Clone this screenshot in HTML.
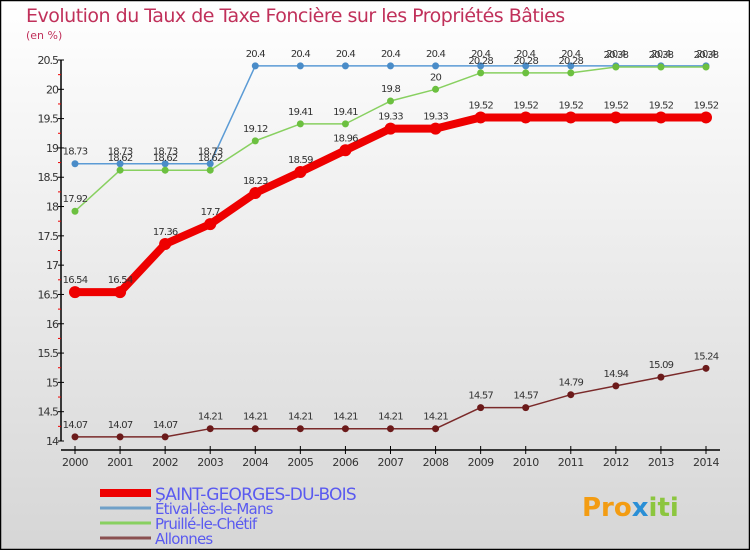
<!DOCTYPE html>
<html><head><meta charset="utf-8"><style>
body{margin:0;}
#c{width:750px;height:550px;}
svg text{font-family:"DejaVu Sans","Liberation Sans",sans-serif;}
</style></head><body>
<div id="c">
<svg id="svg" width="750" height="550" xmlns="http://www.w3.org/2000/svg">
<defs><linearGradient id="bg" x1="0" y1="0" x2="0" y2="1"><stop offset="0" stop-color="#ffffff"/><stop offset="1" stop-color="#d6d6d6"/></linearGradient></defs>
<rect x="0.5" y="0.5" width="749" height="549" fill="url(#bg)" stroke="#000" stroke-width="1.5"/>
<text x="26" y="22" font-size="19" fill="#c0305a" letter-spacing="-0.5">Evolution du Taux de Taxe Foncière sur les Propriétés Bâties</text>
<text x="26" y="39" font-size="11" fill="#c0305a">(en %)</text>
<g id="axes"></g>
<g id="series"></g>
<g id="legend"></g>
<text x="582" y="516" font-size="26" font-weight="bold" fill="#f39c12">Pro<tspan fill="#2a8fd6">x</tspan><tspan fill="#8cc63f">iti</tspan></text>
</svg></div>
<script>
const years=[2000,2001,2002,2003,2004,2005,2006,2007,2008,2009,2010,2011,2012,2013,2014];
const yTicks=[14,14.5,15,15.5,16,16.5,17,17.5,18,18.5,19,19.5,20,20.5];
const stGeorges=[16.54,16.54,17.36,17.7,18.23,18.59,18.96,19.33,19.33,19.52,19.52,19.52,19.52,19.52,19.52];
const etival=[18.73,18.73,18.73,18.73,20.4,20.4,20.4,20.4,20.4,20.4,20.4,20.4,20.4,20.4,20.4];
const pruille=[17.92,18.62,18.62,18.62,19.12,19.41,19.41,19.8,20,20.28,20.28,20.28,20.38,20.38,20.38];
const allonnes=[14.07,14.07,14.07,14.21,14.21,14.21,14.21,14.21,14.21,14.57,14.57,14.79,14.94,15.09,15.24];
const names=["SAINT-GEORGES-DU-BOIS","Étival-lès-le-Mans","Pruillé-le-Chétif","Allonnes"];
const NS="http://www.w3.org/2000/svg";
function X(i){return 75+i*(631/14);}
function Y(v){return 441-(v-14)*(381/6.5);}
function mk(t,a,p){const e=document.createElementNS(NS,t);for(const k in a)e.setAttribute(k,a[k]);p.appendChild(e);return e;}
const ax=document.getElementById('axes');
let e=mk('line',{x1:61,y1:Y(20.5),x2:61,y2:441,stroke:'#000','stroke-width':1.5},ax);


e=mk('line',{x1:61,y1:450,x2:720,y2:450,stroke:'#000','stroke-width':1.5},ax);


yTicks.forEach((v,i)=>{
 mk('line',{x1:58,y1:Y(v),x2:64,y2:Y(v),stroke:'#000'},ax);
 if(i<yTicks.length-1) mk('line',{x1:58,y1:Y(v+0.25),x2:61,y2:Y(v+0.25),stroke:'#e00'},ax);
 const t=mk('text',{x:58,y:Y(v)+4,'font-size':11,fill:'#333','text-anchor':'end','letter-spacing':'-1'},ax);
 t.textContent=String(v);
 
 
});
years.forEach((y,i)=>{
 mk('line',{x1:X(i),y1:446,x2:X(i),y2:454,stroke:'#000'},ax);
 const t=mk('text',{x:X(i),y:466,'font-size':11,fill:'#333','text-anchor':'middle','letter-spacing':'-0.5'},ax);
 t.textContent=String(y);
 
 
});
const sg=document.getElementById('series');
function draw(data,color,w,r,name,dot){
 const g=mk('g',{},sg);
 
 
 const pl=mk('polyline',{points:data.map((v,i)=>X(i)+','+Y(v)).join(' '),fill:'none',stroke:color,'stroke-width':w,'stroke-linejoin':'round'},g);
 
 
 data.forEach((v,i)=>{
  const c=mk('circle',{cx:X(i),cy:Y(v),r:r,fill:dot},g);
  
  
  const t=mk('text',{x:X(i),y:Y(v)-9,'font-size':10,fill:'#333','text-anchor':'middle','letter-spacing':'-0.8'},g);
  t.textContent=String(v);
  
  
 });
}
draw(allonnes,'#7a2a2a',1.5,3.5,'series-allonnes','#6b1a1a');
draw(etival,'#5b9bd5',1.5,3.5,'series-etival','#4a8cc8');
draw(pruille,'#88d060',1.5,3.5,'series-pruille','#6cc040');
draw(stGeorges,'#ee0000',8,6,'series-saint-georges','#ee0000');
const lg=document.getElementById('legend');
const lc=['#ee0000','#6fa0c8','#88d060','#8a5050'],lw=[8,3,3,3];
names.forEach((n,i)=>{
 const y=493+i*15;
 const l=mk('line',{x1:100,y1:y,x2:151,y2:y,stroke:lc[i],'stroke-width':lw[i]},lg);
 
 
 const t=mk('text',{x:155,y:y+(i==0?7:6),'font-size':i==0?17:15,fill:'#5a5af0','letter-spacing':'-0.8'},lg);
 t.textContent=n;
 
 
});
</script>
</body></html>
